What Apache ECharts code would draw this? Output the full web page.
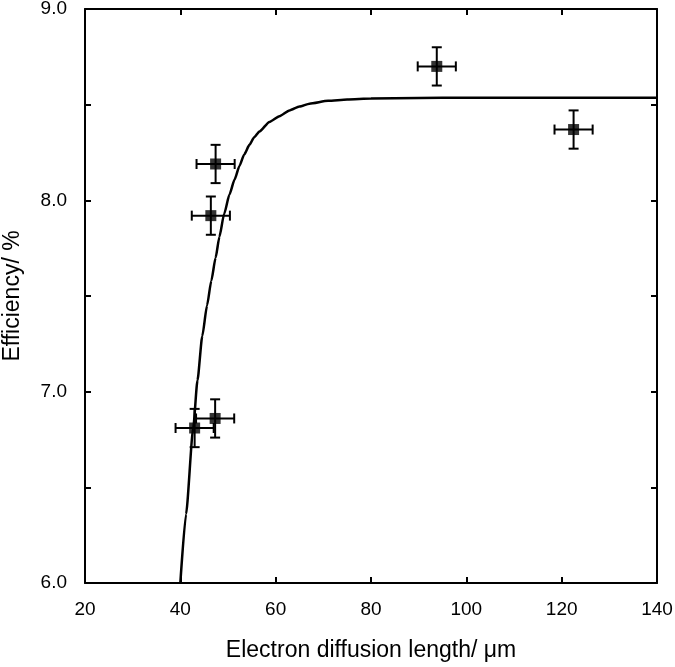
<!DOCTYPE html>
<html><head><meta charset="utf-8">
<script src="https://cdn.jsdelivr.net/npm/echarts@6/dist/echarts.min.js"></script>
<style>html,body{margin:0;padding:0;background:#fff}#c{width:675px;height:667px}</style>
</head><body><div id="c"></div>
<script>
// Data points (x: electron diffusion length µm, y: efficiency %)
var pointX = [43.0, 47.3, 46.4, 47.4, 93.8, 122.5];
var pointY = [6.81, 6.86, 7.92, 8.19, 8.70, 8.37];
var errX = [4.0, 4.0, 4.0, 4.0, 4.0, 4.0];
var errY = [0.10, 0.10, 0.10, 0.10, 0.10, 0.10];
// Fitted curve
var curveX = [40.0, 41.2, 42.7, 43.6, 44.6, 45.6, 46.5, 47.4, 48.2, 49.2, 50.3, 51.4, 52.4, 53.4, 54.5, 55.5, 56.6, 58.7, 60.8, 62.9, 65.0, 67.1, 71.0, 75.0, 80.0, 90.0, 100.0, 140.0];
var curveY = [6.00, 6.36, 6.81, 7.06, 7.29, 7.45, 7.58, 7.70, 7.81, 7.93, 8.03, 8.11, 8.18, 8.24, 8.29, 8.33, 8.36, 8.41, 8.44, 8.47, 8.49, 8.505, 8.52, 8.527, 8.532, 8.535, 8.536, 8.536];
var xTicks = [20, 40, 60, 80, 100, 120, 140];
var yTicks = [6.0, 7.0, 8.0, 9.0];

var FONT = '"Liberation Sans", Arial, Helvetica, sans-serif';
var pts = pointX.map(function(x, i){ return [x, pointY[i], errX[i], errY[i]]; });
var curve = curveX.map(function(x, i){ return [x, curveY[i]]; });

var chart = echarts.init(document.getElementById('c'), null, {renderer: 'canvas'});
var axisLine = {show: true, lineStyle: {color: '#000', width: 2}};
var tick = {show: true, inside: true, length: 6, lineStyle: {color: '#000', width: 2}};
chart.setOption({
  animation: false,
  backgroundColor: '#fff',
  grid: {left: 85, right: 18, top: 9, bottom: 84, containLabel: false, outerBoundsMode: 'none'},
  xAxis: [{
    type: 'value', min: 20, max: 140, interval: 20, position: 'bottom',
    name: 'Electron diffusion length/ \u03bcm', nameLocation: 'middle', nameGap: 56,
    nameTextStyle: {fontFamily: FONT, fontSize: 23, color: '#000'},
    axisLine: axisLine, axisTick: tick, splitLine: {show: false},
    axisLabel: {margin: 17, fontFamily: FONT, fontSize: 19, color: '#000',
      formatter: function(v){ return xTicks.indexOf(v) >= 0 ? String(v) : ''; }}
  }, {
    type: 'value', min: 20, max: 140, interval: 20, position: 'top',
    axisLine: axisLine, axisTick: tick, axisLabel: {show: false}, splitLine: {show: false}
  }],
  yAxis: [{
    type: 'value', min: 6, max: 9, interval: 0.5, position: 'left',
    name: 'Efficiency/ %', nameLocation: 'middle', nameGap: 61, nameRotate: 90,
    nameTextStyle: {fontFamily: FONT, fontSize: 23, color: '#000'},
    axisLine: axisLine, axisTick: tick, splitLine: {show: false},
    axisLabel: {margin: 18, fontFamily: FONT, fontSize: 19, color: '#000',
      formatter: function(v){
        for (var i = 0; i < yTicks.length; i++) if (Math.abs(yTicks[i] - v) < 1e-6) return yTicks[i].toFixed(1);
        return '';
      }}
  }, {
    type: 'value', min: 6, max: 9, interval: 0.5, position: 'right',
    axisLine: axisLine, axisTick: tick, axisLabel: {show: false}, splitLine: {show: false}
  }],
  series: [{
    type: 'line', data: curve, smooth: 0.2, smoothMonotone: 'x', showSymbol: false, symbol: 'none',
    lineStyle: {color: '#000', width: 2.5}, z: 2
  }, {
    type: 'custom', data: pts, z: 3,
    renderItem: function(params, api){
      var x = api.value(0), y = api.value(1), ex = api.value(2), ey = api.value(3);
      var l = api.coord([x - ex, y]), r = api.coord([x + ex, y]);
      var t = api.coord([x, y + ey]), b = api.coord([x, y - ey]);
      var cap = 5;
      var st = {stroke: '#000', lineWidth: 2};
      return {type: 'group', children: [
        {type: 'line', shape: {x1: l[0], y1: l[1], x2: r[0], y2: r[1]}, style: st},
        {type: 'line', shape: {x1: l[0], y1: l[1]-cap, x2: l[0], y2: l[1]+cap}, style: st},
        {type: 'line', shape: {x1: r[0], y1: r[1]-cap, x2: r[0], y2: r[1]+cap}, style: st},
        {type: 'line', shape: {x1: t[0], y1: t[1], x2: b[0], y2: b[1]}, style: st},
        {type: 'line', shape: {x1: t[0]-cap, y1: t[1], x2: t[0]+cap, y2: t[1]}, style: st},
        {type: 'line', shape: {x1: b[0]-cap, y1: b[1], x2: b[0]+cap, y2: b[1]}, style: st}
      ]};
    }
  }, {
    type: 'scatter', data: pts.map(function(p){ return [p[0], p[1]]; }),
    symbol: 'rect', symbolSize: 11, itemStyle: {color: '#000'}, z: 4
  }]
});
</script></body></html>
